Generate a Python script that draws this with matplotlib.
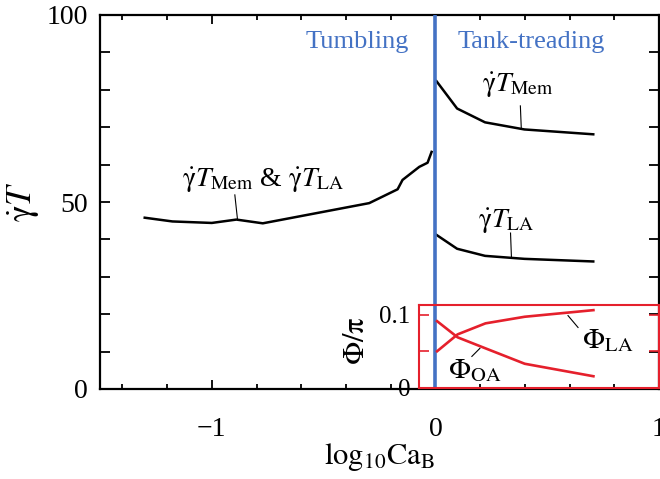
import numpy as np
import matplotlib
matplotlib.use("Agg")
import matplotlib.pyplot as plt
from matplotlib.ticker import MultipleLocator

plt.rcParams['font.family'] = 'serif'
plt.rcParams['font.serif'] = ['Liberation Serif', 'DejaVu Serif']
plt.rcParams['mathtext.fontset'] = 'stix'

# tumbling regime (T_Mem = T_LA)
x_tb = [-1.30, -1.176, -1.0, -0.89, -0.772, -0.296, -0.169, -0.147, -0.072, -0.035, -0.017]
y_tb = [45.8, 44.8, 44.4, 45.3, 44.3, 49.7, 53.4, 55.9, 59.4, 60.5, 63.4]

# tank-treading regime
x_tt = [0.005, 0.097, 0.222, 0.398, 0.706]
y_mem = [82.3, 75.0, 71.3, 69.4, 68.1]
y_la = [41.2, 37.5, 35.6, 34.8, 34.1]

# inclination angles (inset)
phi_oa = [0.091, 0.069, 0.054, 0.033, 0.016]
phi_la = [0.050, 0.073, 0.088, 0.097, 0.106]

blue = '#4472C4'
red = '#E5202C'
gT = r'\dot{\mathrm{\gamma}}T'

fig = plt.figure(figsize=(6.6, 4.79), dpi=100)
ax = fig.add_axes([100/660, 90/479, 559/660, 374/479])

ax.plot(x_tb, y_tb, color='black', lw=1.8)
ax.plot(x_tt, y_mem, color='black', lw=1.8)
ax.plot(x_tt, y_la, color='black', lw=1.8)
ax.axvline(0, color=blue, lw=2.6, zorder=5)

ax.set_xlim(-1.5, 1.0)
ax.set_ylim(0, 100)
ax.xaxis.set_major_locator(MultipleLocator(1))
ax.xaxis.set_minor_locator(MultipleLocator(0.2))
ax.yaxis.set_major_locator(MultipleLocator(50))
ax.yaxis.set_minor_locator(MultipleLocator(10))
ax.set_xticks([-1, 0, 1])
ax.set_xticklabels(['\u22121', '0', '1'])
ax.tick_params(which='both', direction='in', top=True, right=True, width=1.3, labelsize=20)
ax.tick_params(axis='x', which='major', length=6.5, pad=20)
ax.tick_params(axis='x', which='minor', length=3.6)
ax.tick_params(axis='y', which='both', length=7, pad=9)
for s in ax.spines.values():
    s.set_linewidth(1.6)

ax.set_xlabel(r'$\mathrm{log}_{10}\mathrm{Ca}_\mathrm{B}$', fontsize=22)
ax.xaxis.set_label_coords(0.5, -0.14)
ax.set_ylabel('$' + gT + '$', fontsize=25)
ax.yaxis.set_label_coords(-0.105, 0.5)

ax.text(-0.117, 91.2, 'Tumbling', color=blue, fontsize=19, ha='right', va='baseline')
ax.text(0.099, 91.2, 'Tank-treading', color=blue, fontsize=19, ha='left', va='baseline')

ax.text(-0.769, 54, '$' + gT + r'_\mathrm{Mem}$ & $' + gT + r'_\mathrm{LA}$', fontsize=20,
        ha='center', va='baseline')
ax.plot([-0.897, -0.885], [51.9, 45.3], color='black', lw=0.8)
ax.text(0.368, 79.4, '$' + gT + r'_\mathrm{Mem}$', fontsize=20, ha='center', va='baseline')
ax.plot([0.38, 0.384], [75.7, 69.8], color='black', lw=0.8)
ax.text(0.316, 43, '$' + gT + r'_\mathrm{LA}$', fontsize=20, ha='center', va='baseline')
ax.plot([0.336, 0.34], [41.7, 35.3], color='black', lw=0.8)

# inset
ax_in = fig.add_axes([419/660, 91/479, 240/660, 83/479])
ax_in.patch.set_alpha(0)
ax_in.plot(x_tt, phi_oa, color=red, lw=1.9)
ax_in.plot(x_tt, phi_la, color=red, lw=1.9)
ax_in.set_xlim(-0.076, 1.0)
ax_in.set_ylim(0, 0.113)
ax_in.set_xticks([])
ax_in.set_yticks([0, 0.1])
ax_in.set_yticklabels(['0', '0.1'])
ax_in.yaxis.set_minor_locator(MultipleLocator(0.05))
ax_in.tick_params(which='both', direction='in', right=True, color=red, width=1.2,
                  length=7, labelsize=18, pad=6)
for s in ax_in.spines.values():
    s.set_color(red)
    s.set_linewidth(1.5)

ax_in.text(0.768, 0.054, r'$\Phi_\mathrm{LA}$', fontsize=21, ha='center', va='baseline')
ax_in.plot([0.592, 0.637], [0.0986, 0.0824], color='black', lw=0.8)
ax_in.text(0.175, 0.0135, r'$\Phi_\mathrm{OA}$', fontsize=21, ha='center', va='baseline')
ax_in.plot([0.197, 0.161], [0.054, 0.043], color='black', lw=0.8)

fig.text(357/660, 1 - 341/479, r'$\Phi/\mathrm{\pi}$', fontsize=22, rotation=90,
         ha='center', va='center')

fig.savefig('out.png', dpi=100)
